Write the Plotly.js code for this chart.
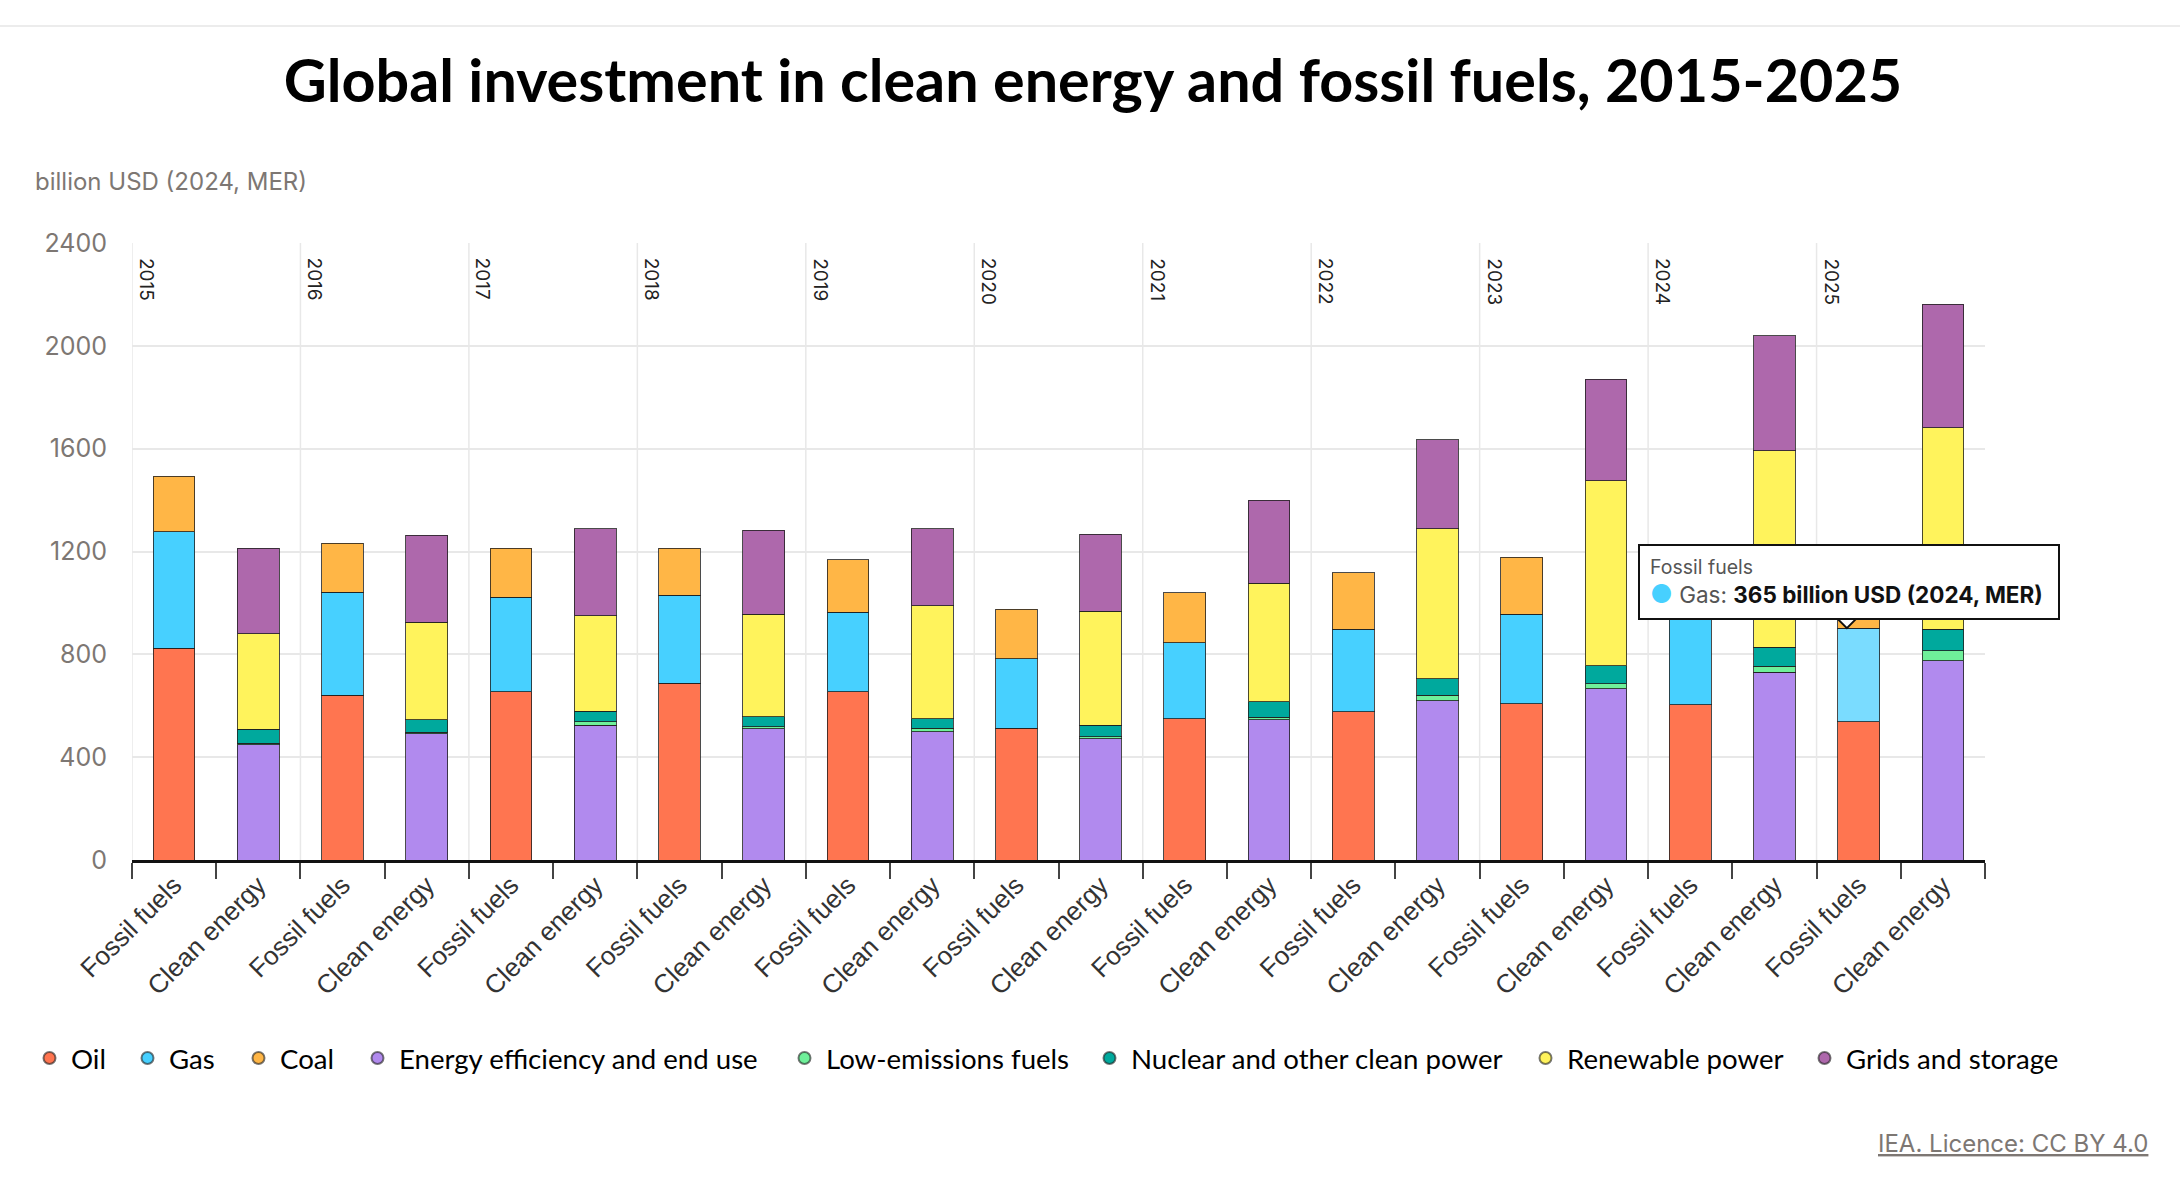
<!DOCTYPE html>
<html><head><meta charset="utf-8">
<script src="https://cdn.plot.ly/plotly-3.0.1.min.js"></script>
<style>html,body{margin:0;padding:0;background:#fff}</style></head>
<body><div id="chart" style="width:2180px;height:1185px"></div>
<script>
const years=['2015','2016','2017','2018','2019','2020','2021','2022','2023','2024','2025'];
const groups=['Fossil fuels','Clean energy'];
const categories=years.flatMap(()=>groups);
const yearStart=[-0.5,1.5,3.5,5.5,7.5,9.5,11.5,13.5,15.5,17.5,19.5];
const oil =[823,null,641,null,655,null,687,null,655,null,512,null,550,null,577,null,608,null,603,null,537,null];
const gas =[454,null,400,null,367,null,342,null,308,null,271,null,296,null,321,null,348,null,397,null,365,null];
const coal=[215,null,191,null,190,null,183,null,205,null,193,null,193,null,219,null,222,null,160,null,190,null];
const efficiency=[null,448,null,492,null,524,null,511,null,499,null,472,null,545,null,620,null,666,null,730,null,775];
const lowEmissions=[null,7,null,5,null,14,null,7,null,14,null,8,null,11,null,21,null,19,null,24,null,39];
const nuclear=[null,53,null,48,null,41,null,39,null,37,null,45,null,60,null,65,null,71,null,73,null,84];
const renewable=[null,372,null,379,null,371,null,399,null,439,null,442,null,461,null,583,null,719,null,764,null,783];
const grids=[null,332,null,339,null,339,null,327,null,300,null,301,null,322,null,345,null,396,null,448,null,480];
const seriesNames=['Oil','Gas','Coal','Energy efficiency and end use','Low-emissions fuels','Nuclear and other clean power','Renewable power','Grids and storage'];
const seriesValues=[oil,gas,coal,efficiency,lowEmissions,nuclear,renewable,grids];
const seriesColors=['#ff7550','#47d0ff','#ffb646','#b18aee','#6ff09a','#00a99d','#fff35c','#ae68ac'];
const highlightColor='#7adcff';
const highlightIndex=20;
const legendMarkerX=[49,147,258,377,804,1109,1545,1824];
const L=132,R=1985,T=243,B=860,W=2180,H=1185;
const px=x=>(x-L)/(R-L), py=y=>(B-y)/(B-T);
const idx=categories.map((_,i)=>i);
const traces=seriesNames.map((n,i)=>({
  type:'bar',name:n,x:idx,y:seriesValues[i],showlegend:false,hoverinfo:'y+name',
  marker:{color:i===1?idx.map(k=>k===highlightIndex?highlightColor:seriesColors[1]):seriesColors[i],
          line:{color:'rgba(30,30,30,0.8)',width:1}}
}));
const legendName=i=>i===0?'legend':'legend'+(i+1);
const legendTraces=seriesNames.map((n,i)=>({
  type:'scatter',mode:'markers',name:n,x:[null],y:[null],legend:legendName(i),
  marker:{symbol:'circle',size:15,color:seriesColors[i],line:{color:'rgba(30,30,30,0.6)',width:1}}
}));
const yearShapes=yearStart.map(v=>({type:'line',xref:'x',yref:'paper',x0:v,x1:v,y0:0,y1:1,layer:'below',line:{color:'#e8e8e8',width:1.5}}));
const yearNotes=years.map((t,i)=>({xref:'x',yref:'paper',x:yearStart[i],y:py(256),xanchor:'left',yanchor:'top',xshift:1,
  text:t,showarrow:false,textangle:90,font:{family:'Inter',size:19,color:'#222'}}));
const layout={
  width:W,height:H,paper_bgcolor:'#fff',plot_bgcolor:'#fff',margin:{l:L,r:W-R,t:T,b:H-B,pad:0},
  barmode:'stack',bargap:0.505,hovermode:false,
  title:{text:'<b>Global investment in clean energy and fossil fuels, 2015-2025</b>',xref:'paper',yref:'container',
    x:px(1093),xanchor:'center',y:1-81/H,yanchor:'middle',font:{family:'Lato',size:59.3,color:'#000'}},
  xaxis:{type:'linear',range:[-0.5,21.5],tickmode:'array',tickvals:idx,ticktext:categories,tickangle:-45,ticks:'',ticklabelstandoff:-3,
    showgrid:false,zeroline:false,showline:true,linecolor:'#111',linewidth:2.5,
    tickfont:{family:'Liberation Sans',size:26,color:'#333'},
    minor:{tickmode:'array',tickvals:idx.map(i=>i-0.5).concat([21.5]),ticks:'outside',ticklen:16,tickcolor:'#444',tickwidth:1.5,showgrid:false}},
  yaxis:{range:[0,2400],tickmode:'array',tickvals:[0,400,800,1200,1600,2000,2400],showgrid:true,gridcolor:'#e8e8e8',gridwidth:1.5,
    zeroline:false,showline:false,ticks:'',ticklabelstandoff:24,tickfont:{family:'Inter',size:25,color:'#7d7773'}},
  shapes:[{type:'line',xref:'paper',yref:'paper',x0:px(0),x1:px(W),y0:py(26),y1:py(26),line:{color:'#e6e6e6',width:1.5}},
    ...yearShapes,
    {type:'path',xref:'x',yref:'y',xsizemode:'pixel',ysizemode:'pixel',xanchor:19.86,yanchor:902,
     path:'M -10 10 L 0 0 L 10 10 Z',fillcolor:'#fff',line:{color:'#111',width:2},layer:'above'}],
  annotations:[...yearNotes,
    {xref:'paper',yref:'paper',x:px(33),y:py(181),xanchor:'left',yanchor:'middle',showarrow:false,text:'billion USD (2024, MER)',font:{family:'Inter',size:24,color:'#7d7773'}},
    {xref:'paper',yref:'paper',x:px(2150),y:py(1143),xanchor:'right',yanchor:'middle',showarrow:false,text:'<u>IEA. Licence: CC BY 4.0</u>',font:{family:'Inter',size:24,color:'#7d7773'}},
    {xref:'paper',yref:'paper',x:px(1638),y:py(544),xanchor:'left',yanchor:'top',showarrow:false,align:'left',valign:'middle',width:398,height:52,
     bgcolor:'#fff',bordercolor:'#111',borderwidth:2,borderpad:10,
     text:'<span style="color:#555;font-size:19.5px">Fossil fuels</span><br><span style="color:#47d0ff;font-size:25px">●</span> <span style="color:#555">Gas:</span> <b>365 billion USD (2024, MER)</b>',
     font:{family:'Inter',size:22.5,color:'#111'}}
  ]
};
seriesNames.forEach((n,i)=>{
  layout[legendName(i)]={orientation:'h',xref:'paper',yref:'paper',x:px(legendMarkerX[i]-21),y:py(1058),xanchor:'left',yanchor:'middle',
    font:{family:'Lato',size:27.6,color:'#000'},itemsizing:'constant',itemwidth:33,bgcolor:'rgba(0,0,0,0)'};
});
Plotly.newPlot('chart',traces.concat(legendTraces),layout,{displayModeBar:false,responsive:false});
</script></body></html>
